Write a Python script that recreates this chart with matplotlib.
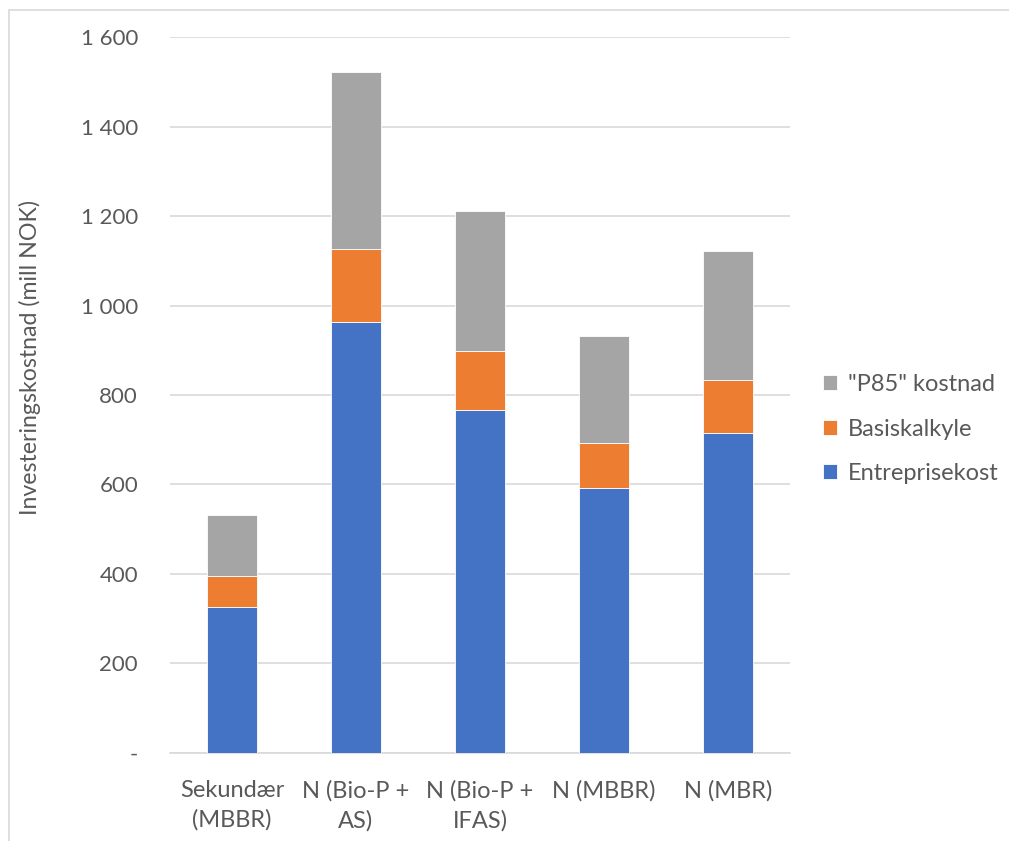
import matplotlib
matplotlib.use("Agg")
import matplotlib.pyplot as plt
from matplotlib.ticker import FuncFormatter
from matplotlib.patches import Rectangle
import numpy as np

categories = ["Sekundær\n(MBBR)", "N (Bio-P +\nAS)", "N (Bio-P +\nIFAS)", "N (MBBR)", "N (MBR)"]
entreprisekost = [326, 963, 767, 593, 714]
basiskalkyle = [69, 163, 131, 99, 119]
p85_kostnad = [137, 396, 314, 241, 290]
series_names = ["Entreprisekost", "Basiskalkyle", "\"P85\" kostnad"]
colors = ["#4472C4", "#ED7D31", "#A5A5A5"]
yticks = [0, 200, 400, 600, 800, 1000, 1200, 1400, 1600]

plt.rcParams['font.family'] = ['Lato', 'DejaVu Sans']
text_color = "#595959"

fig = plt.figure(figsize=(10.09, 8.41), dpi=100)
fig.patches.append(Rectangle((9/1009, -0.1), 1.2, 1 - 10/841 + 0.1, transform=fig.transFigure,
                             fill=False, edgecolor="#D9D9D9", linewidth=1.2))
ax = fig.add_axes([170/1009, 1 - 752.7/841, 620/1009, (752.7 - 37.3)/841])

x = np.arange(len(categories))
bottom = np.zeros(len(categories))
handles = []
for vals, name, c in zip([entreprisekost, basiskalkyle, p85_kostnad], series_names, colors):
    b = ax.bar(x, vals, width=0.4, bottom=bottom, color=c, label=name,
               edgecolor="white", linewidth=0.6, zorder=3)
    handles.append(b)
    bottom += np.array(vals)

ax.set_xlim(-0.5, len(categories) - 0.5)
ax.set_ylim(0, 1600)
ax.set_yticks(yticks)

def fmt(v, pos):
    if v == 0:
        return "-"
    s = f"{int(v):,}".replace(",", " ")
    return s
ax.yaxis.set_major_formatter(FuncFormatter(fmt))
ax.grid(axis="y", color="#D9D9D9", linewidth=1.2, zorder=0)
for s in ["top", "right", "left"]:
    ax.spines[s].set_visible(False)
ax.spines["bottom"].set_color("#D9D9D9")
ax.spines["bottom"].set_linewidth(1.2)
ax.tick_params(axis="y", length=0, pad=23, labelsize=16, labelcolor=text_color)
ax.tick_params(axis="x", length=0, pad=20, labelsize=17, labelcolor=text_color)
ax.set_xticks(x)
ax.set_xticklabels(categories, linespacing=1.45)
ax.set_ylabel("Investeringskostnad (mill NOK)", fontsize=16.7, color=text_color, labelpad=0)
ax.yaxis.set_label_coords(-(170 - 41) / 620, 0.552)

leg = fig.legend(handles[::-1], [h.get_label() for h in handles[::-1]],
                 loc="center left", bbox_to_anchor=(802/1009, 1 - 429/841),
                 frameon=False, fontsize=17, handlelength=0.6, handleheight=0.6,
                 handletextpad=0.45, labelspacing=1.0, labelcolor=text_color)

fig.savefig("out.png", dpi=100)
